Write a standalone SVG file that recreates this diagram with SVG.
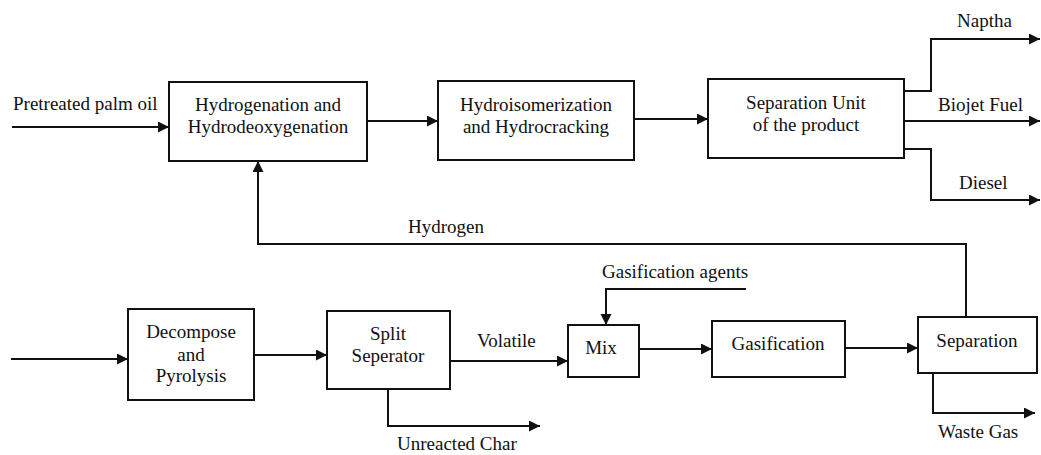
<svg xmlns="http://www.w3.org/2000/svg" width="1041" height="455" viewBox="0 0 1041 455" font-family="Liberation Serif, DejaVu Serif, serif">
  <style>
    .box { fill: #ffffff; stroke: #111111; stroke-width: 2; }
    .lbl { font-size: 19px; fill: #111111; }
    .mid { text-anchor: middle; }
    .flow { fill: none; stroke: #111111; stroke-width: 2; }
    .arr { marker-end: url(#head); }
  </style>
  <defs>
    <marker id="head" markerUnits="userSpaceOnUse" markerWidth="12" markerHeight="12" refX="11" refY="5.5" orient="auto">
      <path d="M0,0 L11,5.5 L0,11 z" fill="#111111"/>
    </marker>
  </defs>
  <rect width="1041" height="455" fill="#ffffff"/>

  <!-- connectors -->
  <g id="connectors">
    <polyline class="flow arr" points="12,127 169,127"/>
    <polyline class="flow arr" points="367,121 438,121"/>
    <polyline class="flow arr" points="634,119 708,119"/>
    <polyline class="flow arr" points="904,91 931,91 931,39 1040,39"/>
    <polyline class="flow arr" points="904,121 1040,121"/>
    <polyline class="flow arr" points="904,149 931,149 931,200 1040,200"/>
    <polyline class="flow arr" points="966,317 966,244 258,244 258,161"/>
    <polyline class="flow arr" points="11,359 128,359"/>
    <polyline class="flow arr" points="254,355 327,355"/>
    <polyline class="flow arr" points="450,361 568,361"/>
    <polyline class="flow arr" points="388,389 388,426 540,426"/>
    <polyline class="flow arr" points="746,289 606,289 606,325"/>
    <polyline class="flow arr" points="639,349 712,349"/>
    <polyline class="flow arr" points="845,348 918,348"/>
    <polyline class="flow arr" points="933,373 933,413 1035,413"/>
    <text class="lbl" x="13" y="110">Pretreated palm oil</text>
    <text class="lbl" x="957" y="27">Naptha</text>
    <text class="lbl" x="938" y="111">Biojet Fuel</text>
    <text class="lbl" x="959" y="189">Diesel</text>
    <text class="lbl" x="408" y="233">Hydrogen</text>
    <text class="lbl" x="477" y="347">Volatile</text>
    <text class="lbl" x="397" y="450">Unreacted Char</text>
    <text class="lbl" x="602" y="278">Gasification agents</text>
    <text class="lbl" x="938" y="438">Waste Gas</text>
  </g>

  <g id="hydrogenation">
    <rect class="box" x="169" y="82" width="198" height="79"/>
    <text class="lbl mid" x="268" y="111">Hydrogenation and</text>
    <text class="lbl mid" x="268" y="133">Hydrodeoxygenation</text>
  </g>

  <g id="hydroisomerization">
    <rect class="box" x="438" y="81" width="196" height="79"/>
    <text class="lbl mid" x="536" y="111">Hydroisomerization</text>
    <text class="lbl mid" x="536" y="133">and Hydrocracking</text>
  </g>

  <g id="separation-unit">
    <rect class="box" x="708" y="79" width="196" height="79"/>
    <text class="lbl mid" x="806" y="109">Separation Unit</text>
    <text class="lbl mid" x="806" y="131">of the product</text>
  </g>

  <g id="decompose">
    <rect class="box" x="128" y="309" width="126" height="91"/>
    <text class="lbl mid" x="191" y="338">Decompose</text>
    <text class="lbl mid" x="191" y="361">and</text>
    <text class="lbl mid" x="191" y="382">Pyrolysis</text>
  </g>

  <g id="split-separator">
    <rect class="box" x="327" y="311" width="123" height="78"/>
    <text class="lbl mid" x="388" y="340">Split</text>
    <text class="lbl mid" x="388" y="362">Seperator</text>
  </g>

  <g id="mix">
    <rect class="box" x="568" y="325" width="71" height="52"/>
    <text class="lbl mid" x="601" y="354">Mix</text>
  </g>

  <g id="gasification">
    <rect class="box" x="712" y="321" width="133" height="56"/>
    <text class="lbl mid" x="778" y="350">Gasification</text>
  </g>

  <g id="separation">
    <rect class="box" x="918" y="317" width="119" height="56"/>
    <text class="lbl mid" x="977" y="347">Separation</text>
  </g>
</svg>
